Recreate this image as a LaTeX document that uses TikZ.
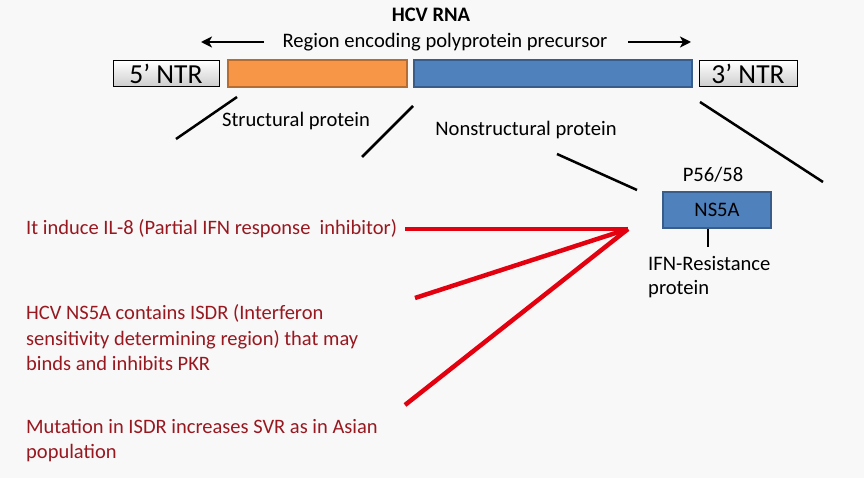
\documentclass[tikz,border=0pt]{standalone}
\usepackage{fontspec}
\setmainfont{Carlito}
\usetikzlibrary{arrows.meta}

\definecolor{orangefill}{HTML}{F79646}
\definecolor{orangeline}{HTML}{B66D31}
\definecolor{bluefill}{HTML}{4F81BD}
\definecolor{blueline}{HTML}{385D8A}
\definecolor{linkred}{HTML}{E3000F}
\definecolor{notered}{HTML}{981820}
\definecolor{bggray}{HTML}{F8F8F8}

\tikzset{
  txt/.style={inner sep=0pt, font=\fontsize{20.6}{24}\selectfont},
  ntr/.style={draw=black, line width=1pt, top color=white, bottom color=black!20,
    minimum height=26pt, inner sep=0pt, font=\fontsize{27.5}{30}\selectfont},
  region/.style={draw, line width=1.5pt, minimum height=27pt, inner sep=0pt},
  note/.style={inner sep=0pt, text=notered, align=left, anchor=west,
    font=\fontsize{20.5}{25.5}\selectfont},
  pointer/.style={line width=2.5pt},
  feed/.style={linkred, line width=4.5pt},
}

\begin{document}
\begin{tikzpicture}[x=1pt, y=-1pt]
    \useasboundingbox[fill=bggray] (0,0) rectangle (864,478);

    \node[txt, font=\bfseries\fontsize{20.6}{24}\selectfont] (rna) at (431,15) {HCV RNA};
    \node[txt] (encoding) at (445,42) {Region encoding polyprotein precursor};
    \coordinate (lfrom) at (264,42);
    \coordinate (lto) at (201,42);
    \coordinate (rfrom) at (628,42);
    \coordinate (rto) at (691,42);
    \draw[pointer, -{Stealth[length=11pt, width=11pt, inset=3pt]}] (lfrom) -- (lto);
    \draw[pointer, -{Stealth[length=11pt, width=11pt, inset=3pt]}] (rfrom) -- (rto);

    \node[ntr, minimum width=106pt] (ntr5) at (166,74) {5’ NTR};
    \node[region, fill=orangefill, draw=orangeline, minimum width=179pt] (structural) at (317.5,73.5) {};
    \node[region, fill=bluefill, draw=blueline, minimum width=278pt] (nonstructural) at (553,73.5) {};
    \node[ntr, minimum width=98pt] (ntr3) at (748,74) {3’ NTR};

    \node[txt] (structlabel) at (296,121) {Structural protein};
    \node[txt] (nonstructlabel) at (526,130) {Nonstructural protein};

    \coordinate (s1a) at (237,97);
    \coordinate (s1b) at (176,139);
    \coordinate (s2a) at (413,106);
    \coordinate (s2b) at (362,157);
    \coordinate (s3a) at (557,154);
    \coordinate (s3b) at (637,190);
    \coordinate (s4a) at (700,102);
    \coordinate (s4b) at (823,182);
    \draw[pointer] (s1a) -- (s1b);
    \draw[pointer] (s2a) -- (s2b);
    \draw[pointer] (s3a) -- (s3b);
    \draw[pointer] (s4a) -- (s4b);

    \node[txt] (p5658) at (713,175) {P56/58};
    \node[region, txt, fill=bluefill, draw=blueline, minimum width=108pt, minimum height=36pt] (ns5a) at (717,210) {NS5A};
    \coordinate (stem) at (708,247);
    \draw[pointer] (ns5a.south -| stem) -- (stem);
    \node[txt, align=left, anchor=west] (resistance) at (648,277) {IFN-Resistance\\protein};

    \node[note] (il8) at (26,229) {It induce IL-8 (Partial IFN response\ \ inhibitor)};
    \node[note] (isdr) at (26,338) {HCV NS5A contains ISDR (Interferon\\sensitivity determining region) that may\\binds and inhibits PKR};
    \node[note] (svr) at (26,440.5) {Mutation in ISDR increases SVR as in Asian\\population};

    \coordinate (hub) at (628,229);
    \coordinate (f1) at (405,229);
    \coordinate (f2) at (415,298);
    \coordinate (f3) at (405,405);
    \draw[feed] (f1) -- (hub);
    \draw[feed] (f2) -- (hub);
    \draw[feed] (f3) -- (hub);
\end{tikzpicture}
\end{document}
